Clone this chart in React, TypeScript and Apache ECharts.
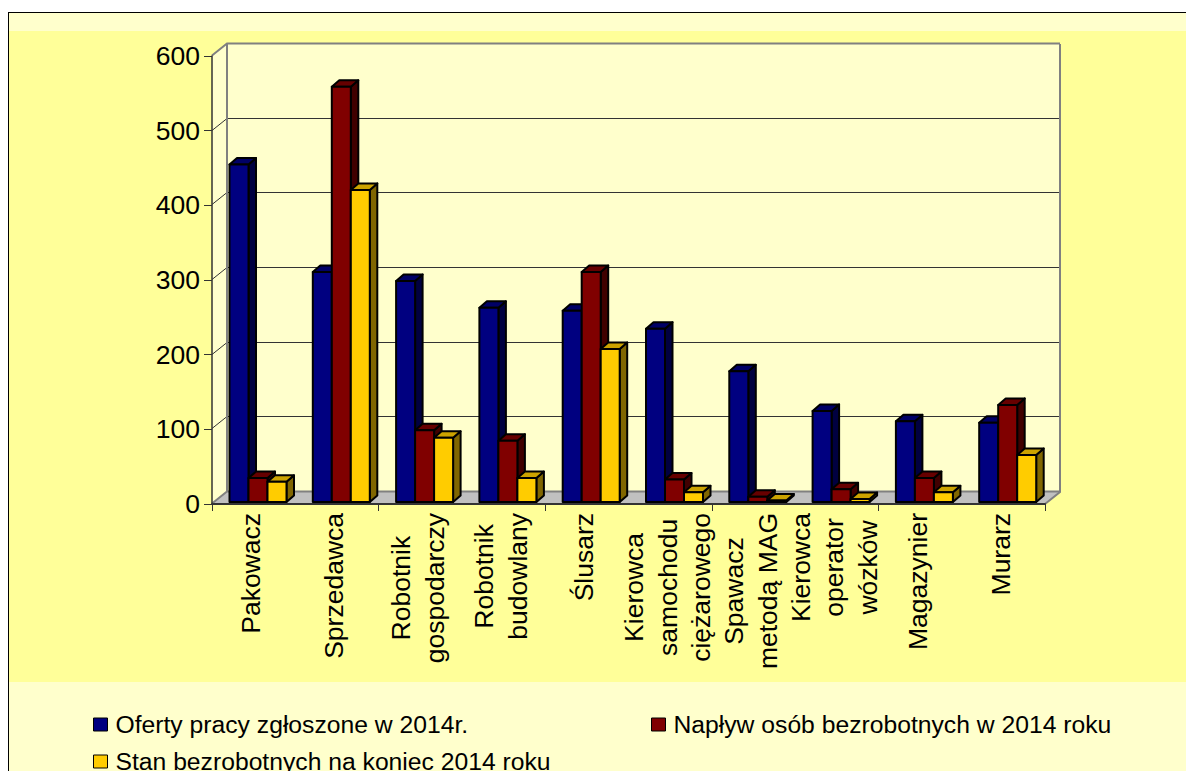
import React, { useEffect, useRef } from "react";
import * as echarts from "echarts";

const categories = [
  "Pakowacz",
  "Sprzedawca",
  "Robotnik\ngospodarczy",
  "Robotnik\nbudowlany",
  "Ślusarz",
  "Kierowca\nsamochodu\nciężarowego",
  "Spawacz\nmetodą MAG",
  "Kierowca\noperator\nwózków",
  "Magazynier",
  "Murarz",
];
const ofertyName = "Oferty pracy zgłoszone w 2014r.";
const naplywName = "Napływ osób bezrobotnych w 2014 roku";
const stanName = "Stan bezrobotnych na koniec 2014 roku";
const oferty = [452, 308, 296, 260, 256, 232, 175, 122, 108, 106];
const naplyw = [32, 556, 96, 82, 308, 30, 7, 17, 32, 130];
const stan = [27, 418, 86, 32, 205, 13, 2, 4, 13, 63];
const yTicks = [0, 100, 200, 300, 400, 500, 600];

const FONT = "Liberation Sans";
const LABEL_SIZE = 26.5;
const DX = 15;
const DY = -12;
const GREY = "#808080";
const DARK = "#333333";

const measure = document.createElement("canvas").getContext("2d");
function longestLine(text: string) {
  if (!measure) return 100;
  measure.font = `${LABEL_SIZE}px "${FONT}"`;
  return Math.max(...text.split("\n").map((l) => measure.measureText(l).width));
}

const renderWalls = (params: any, api: any) => {
  const cs = params.coordSys;
  const x0 = cs.x;
  const x1 = cs.x + cs.width;
  const yTop = cs.y;
  const yBot = cs.y + cs.height;
  const children: any[] = [
    {
      type: "polygon",
      shape: { points: [[x0, yBot], [x0, yTop], [x0 + DX, yTop + DY], [x0 + DX, yBot + DY]] },
      style: { fill: "#FFFFCC", stroke: "none" },
    },
    {
      type: "rect",
      shape: { x: x0 + DX, y: yTop + DY, width: cs.width, height: cs.height },
      style: { fill: "#FFFFCC", stroke: "none" },
    },
    {
      type: "polygon",
      shape: { points: [[x0, yBot], [x1, yBot], [x1 + DX, yBot + DY], [x0 + DX, yBot + DY]] },
      style: { fill: "#C0C0C0", stroke: "none" },
    },
  ];
  yTicks.forEach((v) => {
    const y = Math.round(api.coord([0, v])[1]) - 0.5;
    const edge = v === 0 || v === 600;
    const color = edge ? GREY : DARK;
    const w = edge ? 2 : 1;
    children.push({
      type: "polyline",
      shape: { points: [[x0, y], [x0 + DX, y + DY], [x1 + DX, y + DY]] },
      style: { fill: "none", stroke: color, lineWidth: w },
    });
  });
  children.push({
    type: "line",
    shape: { x1: x0 + DX, y1: yTop + DY, x2: x0 + DX, y2: yBot + DY },
    style: { stroke: GREY, lineWidth: 2 },
  });
  children.push({
    type: "polyline",
    shape: { points: [[x1 + DX, yTop + DY], [x1 + DX, yBot + DY], [x1, yBot]] },
    style: { fill: "none", stroke: GREY, lineWidth: 2 },
  });
  return { type: "group", children };
};

const makeBars = (idx: number, front: string, top: string, side: string) => (params: any, api: any) => {
  const band = api.size([1, 0])[0];
  const cx = api.coord([api.value(0), 0])[0];
  const w = 19;
  const left = cx - band / 2 + 17.5 + idx * w;
  const base = api.coord([0, 0])[1] - 2;
  const y = api.coord([0, api.value(1)])[1] - 2;
  const dx = 7.5;
  const dy = -6.5;
  const stroke = { stroke: "#000000", lineWidth: 2, lineJoin: "round" };
  return {
    type: "group",
    children: [
      {
        type: "polygon",
        shape: { points: [[left + w, y], [left + w + dx, y + dy], [left + w + dx, base + dy], [left + w, base]] },
        style: { fill: side, ...stroke },
      },
      {
        type: "polygon",
        shape: { points: [[left, y], [left + dx, y + dy], [left + w + dx, y + dy], [left + w, y]] },
        style: { fill: top, ...stroke },
      },
      {
        type: "rect",
        shape: { x: left, y, width: w, height: base - y },
        style: { fill: front, ...stroke },
      },
    ],
  };
};

const renderLabel = (params: any, api: any) => {
  const text = categories[params.dataIndex];
  const [cx, y0] = api.coord([api.value(0), 0]);
  return {
    type: "text",
    x: cx - 2.5,
    y: y0 + 9 + longestLine(text) / 2,
    rotation: Math.PI / 2,
    style: {
      text,
      fill: "#000000",
      fontFamily: FONT,
      fontSize: LABEL_SIZE,
      lineHeight: 33.5,
      align: "center",
      verticalAlign: "middle",
    },
  };
};

const bgRect = (x: number, y: number, width: number, height: number, fill: string, z: number) => ({
  type: "rect",
  z,
  silent: true,
  shape: { x, y, width, height },
  style: { fill },
});

const legendBase = {
  orient: "horizontal",
  itemWidth: 14,
  itemHeight: 13,
  icon: "rect",
  selectedMode: false,
  itemStyle: { borderColor: "#000000", borderWidth: 1 },
  textStyle: { color: "#000000", fontFamily: FONT, fontSize: 24.7, padding: [0, 0, 0, 3] },
  padding: 0,
};

export default function App() {
  const ref = useRef<HTMLDivElement>(null);
  useEffect(() => {
    const chart = echarts.init(ref.current!, null, { renderer: "svg" });
    chart.setOption({
      animation: false,
      backgroundColor: "#FFFFFF",
      textStyle: { fontFamily: FONT },
      graphic: [
        bgRect(8, 12, 1178, 759, "#000000", -5),
        bgRect(9, 13, 1177, 758, "#FFFFCC", -4),
        bgRect(9, 31, 1177, 651, "#FFFF99", -3),
      ],
      legend: [
        { ...legendBase, data: [ofertyName], left: 93, top: 712 },
        { ...legendBase, data: [naplywName], left: 651, top: 712 },
        { ...legendBase, data: [stanName], left: 93, top: 749 },
      ],
      grid: { left: 212, top: 56, width: 833, height: 448, containLabel: false },
      xAxis: {
        type: "category",
        data: categories,
        z: 3,
        axisLine: { show: true, lineStyle: { color: DARK, width: 2 } },
        axisTick: { show: true, length: 7, alignWithLabel: false, lineStyle: { color: DARK, width: 1 } },
        axisLabel: { show: false },
        splitLine: { show: false },
      },
      yAxis: {
        type: "value",
        min: 0,
        max: 600,
        interval: 100,
        z: 3,
        axisLine: { show: true, lineStyle: { color: DARK, width: 1.5 } },
        axisTick: { show: true, length: 8, lineStyle: { color: DARK, width: 1 } },
        axisLabel: { color: "#000000", fontFamily: FONT, fontSize: LABEL_SIZE, margin: 12 },
        splitLine: { show: false },
      },
      series: [
        { type: "custom", name: "walls", z: 1, clip: false, data: [[0, 0]], renderItem: renderWalls, silent: true },
        {
          type: "custom",
          name: ofertyName,
          z: 4,
          clip: false,
          itemStyle: { color: "#000080" },
          data: oferty.map((v, i) => [i, v]),
          renderItem: makeBars(0, "#000080", "#000066", "#000040"),
        },
        {
          type: "custom",
          name: naplywName,
          z: 4,
          clip: false,
          itemStyle: { color: "#800000" },
          data: naplyw.map((v, i) => [i, v]),
          renderItem: makeBars(1, "#800000", "#660000", "#400000"),
        },
        {
          type: "custom",
          name: stanName,
          z: 4,
          clip: false,
          itemStyle: { color: "#FFCC00" },
          data: stan.map((v, i) => [i, v]),
          renderItem: makeBars(2, "#FFCC00", "#CCA300", "#806600"),
        },
        {
          type: "custom",
          name: "labels",
          z: 5,
          clip: false,
          silent: true,
          data: categories.map((_, i) => [i, 0]),
          renderItem: renderLabel,
        },
      ],
    });
    return () => chart.dispose();
  }, []);
  return <div ref={ref} style={{ position: "absolute", left: 0, top: 0, width: 1186, height: 771 }} />;
}
